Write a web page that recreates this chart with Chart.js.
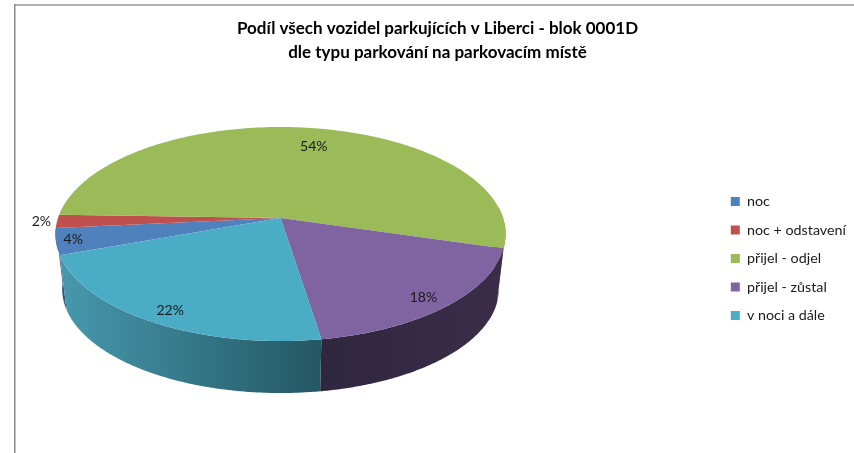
<!DOCTYPE html>
<html><head><meta charset="utf-8">
<style>html,body{margin:0;padding:0;background:#fff}canvas{display:block}</style>
<script src="https://cdn.jsdelivr.net/npm/chart.js@4"></script></head>
<body><canvas id="c" width="854" height="453"></canvas>
<script>
const categories = ["noc","noc + odstavení","přijel - odjel","přijel - zůstal","v noci a dále"];
const shares = [4,2,54,18,22];
const titleLines = ["Podíl všech vozidel parkujících v Liberci - blok 0001D","dle typu parkování na parkovacím místě"];
const topColors = ["#4F81BD","#C0504D","#9BBB59","#8064A2","#4BACC6"];
const wallColors = [["#3c6496","#34577f"],["#8a3a38","#7a3331"],["#6f8640","#5d7036"],["#2f2640","#3b2d49"],["#4799ae","#245763"]];
const FONT = "Lato, Carlito, sans-serif";
const VIEW = {dx:-76.8, dy:-45, rx:1.171, ry:0.5505, k:0.15, depth:0.293, base:0.97};
const labelFrac = [0.93,1.07,0.78,0.87,0.9];
const labelNudge = [[1,0],[0,0],[9,1],[1,4],[5,1]];

function project(v, t, s, bottom){
  const x=Math.cos(t)*s, y=Math.sin(t)*s, w=1-v.k*y, b=bottom?v.base:1;
  return [v.cx + x/w*v.R*b, v.cy + y/w*v.A*b + (bottom?v.d:0)];
}
function view(chart){
  const a=chart.getDatasetMeta(0).data[0];
  const R=a.outerRadius;
  return {cx:a.x+VIEW.dx, cy:a.y+VIEW.dy, R:R*VIEW.rx, A:R*VIEW.ry, k:VIEW.k, d:R*VIEW.depth, base:VIEW.base};
}
const pie3d = {
  id:'pie3d',
  afterLayout(chart){
    chart.legend.top+=32; chart.legend.bottom+=32;
    chart.legend.left+=2; chart.legend.right+=2;
    chart.titleBlock.left+=10.5; chart.titleBlock.right+=10.5;
  },
  beforeDraw(chart){
    const c=chart.ctx; c.save();
    c.fillStyle='#b0b0b0'; c.fillRect(14,4,840,2);
    c.fillStyle='#8a8a8a'; c.fillRect(14,4,1.5,449);
    c.restore();
  },
  beforeDatasetDraw(chart){
    const c=chart.ctx, meta=chart.getDatasetMeta(0), v=view(chart);
    const N=160, TAU=Math.PI*2;
    c.save();
    const lo=-0.1, hi=Math.PI*0.97;
    meta.data.forEach((arc,i)=>{
      const ranges=[[arc.startAngle,arc.endAngle],[arc.startAngle-TAU,arc.endAngle-TAU],[arc.startAngle+TAU,arc.endAngle+TAU]];
      ranges.forEach(([s0,e0])=>{
        const s=Math.max(s0,lo), e=Math.min(e0,hi);
        if(e<=s) return;
        c.beginPath();
        for(let j=0;j<=N;j++){const p=project(v,s+(e-s)*j/N,1,false); j?c.lineTo(p[0],p[1]):c.moveTo(p[0],p[1]);}
        for(let j=N;j>=0;j--){const p=project(v,s+(e-s)*j/N,1,true); c.lineTo(p[0],p[1]);}
        c.closePath();
        const p0=project(v,s,1,false), p1=project(v,e,1,false);
        const g=c.createLinearGradient(p1[0],0,p0[0],0);
        g.addColorStop(0,wallColors[i][0]); g.addColorStop(1,wallColors[i][1]);
        c.fillStyle=g; c.fill();
      });
    });
    meta.data.forEach((arc,i)=>{
      c.beginPath();
      c.moveTo(v.cx,v.cy);
      const s=arc.startAngle,e=arc.endAngle;
      for(let j=0;j<=N;j++){const p=project(v,s+(e-s)*j/N,1,false); c.lineTo(p[0],p[1]);}
      c.closePath();
      c.fillStyle=arc.options.backgroundColor; c.fill();
    });
    c.font="14px "+FONT; c.fillStyle="#1a1a1a"; c.textAlign='center'; c.textBaseline='middle';
    meta.data.forEach((arc,i)=>{
      const p=project(v,(arc.startAngle+arc.endAngle)/2,labelFrac[i],false);
      c.fillText(shares[i]+"%",p[0]+labelNudge[i][0],p[1]+labelNudge[i][1]);
    });
    c.restore();
    return false;
  }
};
new Chart(document.getElementById('c'),{
  type:'pie',
  plugins:[pie3d],
  data:{labels:categories,datasets:[{data:shares,backgroundColor:topColors,borderWidth:0}]},
  options:{
    responsive:false,animation:false,
    rotation:250.2,
    layout:{padding:{left:0,right:0,top:0,bottom:0}},
    plugins:{
      tooltip:{enabled:false},
      title:{display:true,text:titleLines,color:"#000",font:{family:FONT,size:17,weight:'bold',lineHeight:1.41},padding:{top:17,bottom:8}},
      legend:{position:'right',align:'center',labels:{boxWidth:9,boxHeight:9,padding:14.2,color:"#1a1a1a",font:{family:FONT,size:14.3}}}
    }
  }
});
</script></body></html>
